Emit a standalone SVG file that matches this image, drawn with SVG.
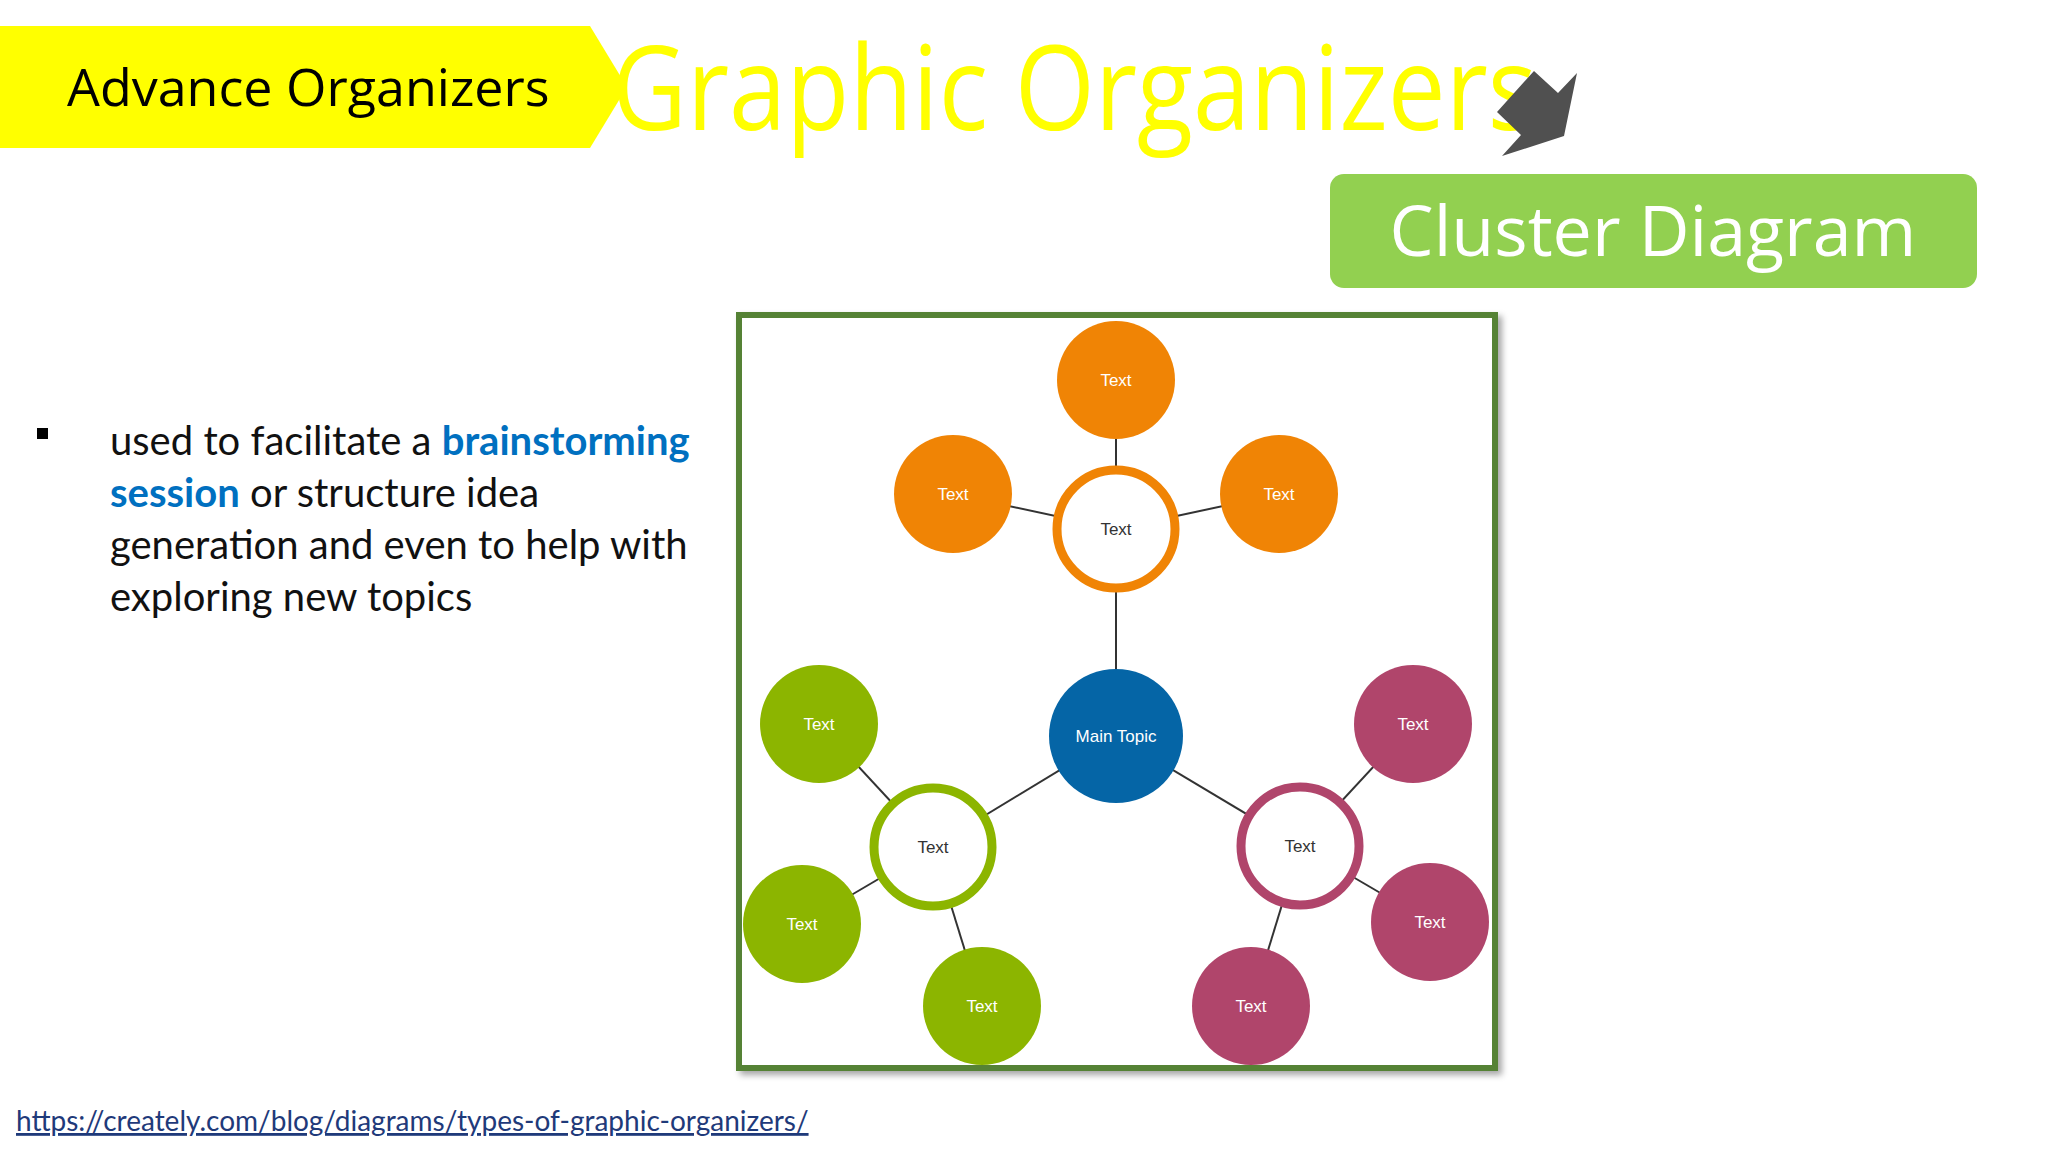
<svg xmlns="http://www.w3.org/2000/svg" width="2048" height="1152" viewBox="0 0 2048 1152">
<defs>
<style>
.lf{stroke:none}
.o{fill:#F08405}.g{fill:#8CB500}.p{fill:#B0456B}
.ring{fill:#fff;stroke-width:9}
.wt{font-family:"Liberation Sans",Arial,sans-serif;font-size:17px;fill:#fff;text-anchor:middle}
.dt{font-family:"Liberation Sans",Arial,sans-serif;font-size:17px;fill:#333;text-anchor:middle}
.c line{stroke:#333;stroke-width:2}
.body{font-family:Lato,"Open Sans",sans-serif;font-size:40px;fill:#111}
</style>
<filter id="sh" x="-5%" y="-5%" width="110%" height="110%"><feDropShadow dx="4" dy="4" stdDeviation="3" flood-color="#000" flood-opacity="0.35"/></filter>
</defs>
<rect width="2048" height="1152" fill="#fff"/>
<g id="header">
<polygon points="0,26 590,26 627,87 590,148 0,148" fill="#FFFF00"/>
<text x="67" y="106" font-family="'Open Sans','Noto Sans',sans-serif" font-size="52" fill="#000">Advance Organizers</text>
<text x="612" y="130" font-family="'Open Sans','Noto Sans',sans-serif" font-size="118" fill="#FFFF00" textLength="925" lengthAdjust="spacingAndGlyphs">Graphic Organizers</text>
<polygon points="1534,71 1558,93 1577,73 1564,136 1502,156 1521,135 1497,112" fill="#505050"/>
</g>
<g id="title">
<rect x="1330" y="174" width="647" height="114" rx="14" fill="#92D050"/>
<text x="1653" y="256" text-anchor="middle" font-family="'Open Sans','Noto Sans',sans-serif" font-size="70" fill="#fff">Cluster Diagram</text>
</g>
<g id="bullet">
<rect x="37" y="428" width="11" height="11" fill="#000"/>
<text class="body" x="110" y="455">used to facilitate a <tspan font-weight="bold" fill="#0070C0">brainstorming</tspan></text>
<text class="body" x="110" y="507"><tspan font-weight="bold" fill="#0070C0">session</tspan> or structure idea</text>
<text class="body" x="110" y="559">generation and even to help with</text>
<text class="body" x="110" y="611">exploring new topics</text>
</g>
<g id="link">
<text x="16" y="1131" font-family="Lato,'Open Sans',sans-serif" font-size="28" fill="#1F3A7A" text-decoration="underline">https://creately.com/blog/diagrams/types-of-graphic-organizers/</text>
</g>
<g id="frame">
<rect x="739" y="315" width="756" height="753" fill="#fff" stroke="#548235" stroke-width="6" filter="url(#sh)"/>
</g>
<g id="connectors" class="c">
<line x1="1116" y1="736" x2="1116" y2="529"/>
<line x1="1116" y1="736" x2="933" y2="847"/>
<line x1="1116" y1="736" x2="1300" y2="846"/>
<line x1="1116" y1="529" x2="1116" y2="380"/>
<line x1="1116" y1="529" x2="953" y2="494"/>
<line x1="1116" y1="529" x2="1279" y2="494"/>
<line x1="933" y1="847" x2="819" y2="724"/>
<line x1="933" y1="847" x2="802" y2="924"/>
<line x1="933" y1="847" x2="982" y2="1006"/>
<line x1="1300" y1="846" x2="1413" y2="724"/>
<line x1="1300" y1="846" x2="1430" y2="922"/>
<line x1="1300" y1="846" x2="1251" y2="1006"/>
</g>
<g id="main"><circle cx="1116" cy="736" r="67" fill="#0565A6"/><text class="wt" x="1116" y="742">Main Topic</text></g>
<g id="ring-o"><circle class="ring" cx="1116" cy="529" r="59" stroke="#F08405"/><text class="dt" x="1116" y="535">Text</text></g>
<g id="ring-g"><circle class="ring" cx="933" cy="847" r="59" stroke="#8CB500"/><text class="dt" x="933" y="853">Text</text></g>
<g id="ring-p"><circle class="ring" cx="1300" cy="846" r="59" stroke="#B0456B"/><text class="dt" x="1300" y="852">Text</text></g>
<g id="o1"><circle class="o" cx="1116" cy="380" r="59"/><text class="wt" x="1116" y="386">Text</text></g>
<g id="o2"><circle class="o" cx="953" cy="494" r="59"/><text class="wt" x="953" y="500">Text</text></g>
<g id="o3"><circle class="o" cx="1279" cy="494" r="59"/><text class="wt" x="1279" y="500">Text</text></g>
<g id="g1"><circle class="g" cx="819" cy="724" r="59"/><text class="wt" x="819" y="730">Text</text></g>
<g id="g2"><circle class="g" cx="802" cy="924" r="59"/><text class="wt" x="802" y="930">Text</text></g>
<g id="g3"><circle class="g" cx="982" cy="1006" r="59"/><text class="wt" x="982" y="1012">Text</text></g>
<g id="p1"><circle class="p" cx="1413" cy="724" r="59"/><text class="wt" x="1413" y="730">Text</text></g>
<g id="p2"><circle class="p" cx="1430" cy="922" r="59"/><text class="wt" x="1430" y="928">Text</text></g>
<g id="p3"><circle class="p" cx="1251" cy="1006" r="59"/><text class="wt" x="1251" y="1012">Text</text></g>
</svg>
